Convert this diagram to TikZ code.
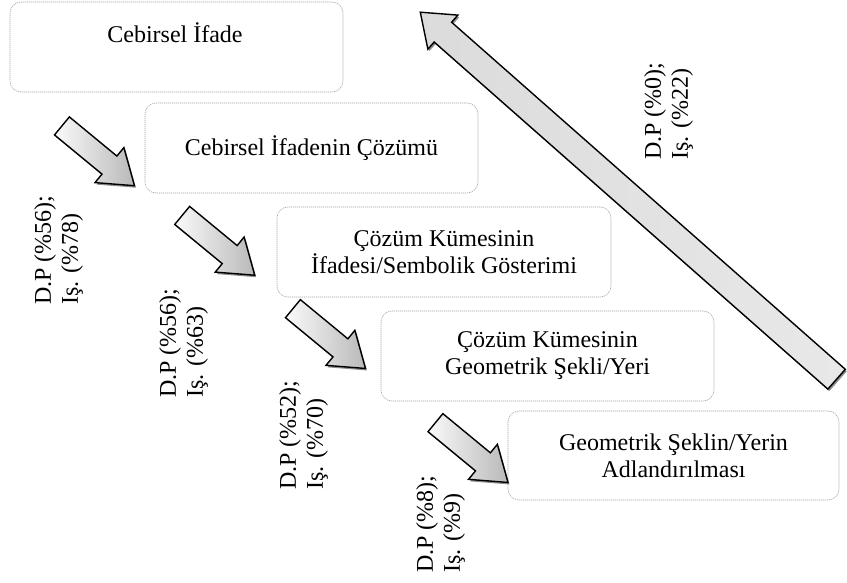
\documentclass[tikz,border=0pt]{standalone}
\usepackage{fontspec}
\setmainfont{Liberation Serif}
\usetikzlibrary{shapes.arrows,shadows}
\begin{document}
\begin{tikzpicture}[x=1pt,y=1pt,
  box/.style={draw=gray!70, line width=0.6pt, dash pattern=on 1.2pt off 0.8pt,
    rounded corners=11pt, inner sep=0pt, font=\fontsize{24}{27}\selectfont, align=center},
  txt/.style={font=\fontsize{24}{27}\selectfont, align=center, inner sep=0pt},
  lab/.style={font=\fontsize{24}{27}\selectfont, align=left, inner sep=0pt, rotate=90, anchor=north west},
  arrowshadow/.style={drop shadow={shadow xshift=1.5pt, shadow yshift=-2pt, opacity=0.45, fill=black}},
  smallarrow/.style={single arrow, draw=black, line width=1.4pt, minimum height=94pt,
    inner xsep=0pt, inner ysep=11pt, single arrow head extend=11pt, single arrow tip angle=70,
    left color=gray!4, right color=gray!55, arrowshadow, rotate=-39.5},
  bigarrow/.style={single arrow, draw=black, line width=1.4pt, minimum height=555pt,
    inner xsep=0pt, inner ysep=12.5pt, single arrow head extend=9.5pt, single arrow tip angle=74,
    left color=gray!28, right color=gray!18, arrowshadow, rotate=138.6}
]
\useasboundingbox (0,0) rectangle (847,-583);

% boxes
\node[box, minimum width=333pt, minimum height=90pt] (b1) at (176.5,-47) {};
\node[txt] (t1) at (175,-33) {Cebirsel İfade};
\node[box, minimum width=333pt, minimum height=90pt] (b2) at (311.5,-148) {Cebirsel İfadenin Çözümü};
\node[box, minimum width=334pt, minimum height=90pt] (b3) at (444,-252) {Çözüm Kümesinin\\İfadesi/Sembolik Gösterimi};
\node[box, minimum width=333pt, minimum height=90pt] (b4) at (547.5,-356) {Çözüm Kümesinin\\Geometrik Şekli/Yeri};
\node[box, minimum width=331pt, minimum height=89pt] (b5) at (673.5,-455.5) {Geometrik Şeklin/Yerin\\Adlandırılması};

% arrows
\node[smallarrow] (a1) at (91.75,-150.5) {};
\node[smallarrow] (a2) at (212,-240) {};
\node[smallarrow] (a3) at (322.75,-333.25) {};
\node[smallarrow] (a4) at (465.25,-447.25) {};
\node[bigarrow] (a5) at (635,-201.5) {};

% labels
\node[lab] (l1) at (34,-305) {D.P (\%56);\\Iş. (\%78)};
\node[lab] (l2) at (159,-398) {D.P (\%56);\\Iş. (\%63)};
\node[lab] (l3) at (279,-490) {D.P (\%52);\\Iş. (\%70)};
\node[lab] (l4) at (416,-573) {D.P (\%8);\\Iş. (\%9)};
\node[lab] (l5) at (644,-160) {D.P (\%0);\\Iş. (\%22)};
\end{tikzpicture}
\end{document}
